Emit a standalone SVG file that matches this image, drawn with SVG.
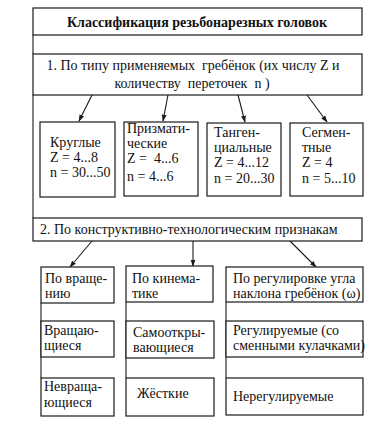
<svg xmlns="http://www.w3.org/2000/svg" width="392" height="428" viewBox="0 0 392 428">
<defs>
<style>
.b{fill:#fff;stroke:#1a1a1a;stroke-width:1.2}
.t{font-family:"Liberation Serif","Times New Roman",serif;font-size:14px;fill:#111;white-space:pre}
.c{text-anchor:middle}
.h{font-weight:bold}
.l{fill:none;stroke:#1a1a1a;stroke-width:1.1}
</style>
<marker id="ah" viewBox="0 0 10 10" refX="9" refY="5" markerWidth="7" markerHeight="7" orient="auto" markerUnits="userSpaceOnUse">
<path d="M0,1.5 L10,5 L0,8.5 Z" fill="#1a1a1a"/>
</marker>
</defs>
<rect width="392" height="428" fill="#fff"/>
<g id="connectors">
<path class="l" d="M33,35 V54 M33,95 V218"/>
<path class="l" d="M92,95 L79,121" marker-end="url(#ah)"/>
<path class="l" d="M168,95 L163,121" marker-end="url(#ah)"/>
<path class="l" d="M238,95 L245,122" marker-end="url(#ah)"/>
<path class="l" d="M307,95 L327,122" marker-end="url(#ah)"/>
<path class="l" d="M92,241 L70,267" marker-end="url(#ah)"/>
<path class="l" d="M193,241 V266" marker-end="url(#ah)"/>
<path class="l" d="M290,241 L316,267" marker-end="url(#ah)"/>
<path class="l" d="M41,303 V378 M126,302 V378 M226,302 V378"/>
</g>
<g id="title">
<rect class="b" x="33" y="8" width="329" height="27"/>
<text class="t c h" x="197" y="27">Классификация резьбонарезных головок</text>
</g>
<g id="group1">
<rect class="b" x="33" y="54" width="329" height="41"/>
<text class="t c" x="193" y="70" xml:space="preserve">1. По типу применяемых  гребёнок (их числу Z и</text>
<text class="t c" x="192" y="88" xml:space="preserve">количеству  переточек  n )</text>
</g>
<g id="round">
<rect class="b" x="40" y="122" width="75" height="75"/>
<text class="t" x="50" y="147">Круглые</text>
<text class="t" x="50" y="162">Z = 4...8</text>
<text class="t" x="50" y="177">n = 30...50</text>
</g>
<g id="prism">
<rect class="b" x="124" y="122" width="74" height="74"/>
<text class="t" x="127" y="133">Призмати-</text>
<text class="t" x="127" y="148">ческие</text>
<text class="t" x="127" y="163" xml:space="preserve">Z =  4...6</text>
<text class="t" x="127" y="181">n = 4...6</text>
</g>
<g id="tang">
<rect class="b" x="207" y="123" width="74" height="73"/>
<text class="t" x="214" y="137">Танген-</text>
<text class="t" x="214" y="152">циальные</text>
<text class="t" x="214" y="167">Z = 4...12</text>
<text class="t" x="214" y="183">n = 20...30</text>
</g>
<g id="segm">
<rect class="b" x="290" y="123" width="73" height="73"/>
<text class="t" x="302" y="137">Сегмен-</text>
<text class="t" x="302" y="152">тные</text>
<text class="t" x="302" y="167">Z = 4</text>
<text class="t" x="302" y="183">n = 5...10</text>
</g>
<g id="group2">
<rect class="b" x="33" y="218" width="329" height="23"/>
<text class="t" x="40" y="234">2. По конструктивно-технологическим признакам</text>
</g>
<g id="rotation">
<rect class="b" x="41" y="267" width="73" height="36"/>
<text class="t" x="45" y="283">По враще-</text>
<text class="t" x="45" y="298">нию</text>
</g>
<g id="kinematics">
<rect class="b" x="126" y="266" width="87" height="36"/>
<text class="t" x="132" y="283">По кинема-</text>
<text class="t" x="132" y="298">тике</text>
</g>
<g id="adjust">
<rect class="b" x="226" y="267" width="137" height="35"/>
<text class="t" x="233" y="283">По регулировке угла</text>
<text class="t" x="233" y="298">наклона гребёнок (ω)</text>
</g>
<g id="rotating">
<rect class="b" x="41" y="321" width="73" height="36"/>
<text class="t" x="44" y="335">Вращаю-</text>
<text class="t" x="44" y="350">щиеся</text>
</g>
<g id="selfopening">
<rect class="b" x="126" y="321" width="88" height="37"/>
<text class="t" x="133" y="337">Самооткры-</text>
<text class="t" x="133" y="352">вающиеся</text>
</g>
<g id="adjustable">
<rect class="b" x="226" y="321" width="137" height="36"/>
<text class="t" x="233" y="335">Регулируемые (со</text>
<text class="t" x="233" y="350">сменными кулачками)</text>
</g>
<g id="nonrotating">
<rect class="b" x="41" y="378" width="73" height="38"/>
<text class="t" x="44" y="391">Невраща-</text>
<text class="t" x="44" y="407">ющиеся</text>
</g>
<g id="rigid">
<rect class="b" x="126" y="378" width="88" height="38"/>
<text class="t" x="137" y="398">Жёсткие</text>
</g>
<g id="nonadjustable">
<rect class="b" x="226" y="378" width="137" height="37"/>
<text class="t" x="233" y="401">Нерегулируемые</text>
</g>
</svg>
